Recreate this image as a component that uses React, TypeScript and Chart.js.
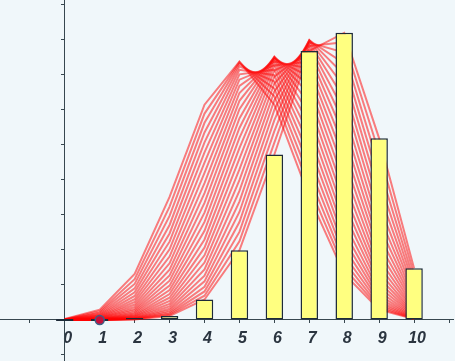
import React, { useEffect, useRef } from "react";
import { Chart, registerables } from "chart.js";

Chart.register(...registerables);

// x positions (number of successes k)
const kValues = [0, 1, 2, 3, 4, 5, 6, 7, 8, 9, 10];
const xTickLabels = ["0", "1", "2", "3", "4", "5", "6", "7", "8", "9", "10"];

// final bars (yellow)
const barValues = [0.0, 0.0, 0.0005, 0.0039, 0.0195, 0.0664, 0.1576, 0.2563, 0.2735, 0.173, 0.0492];

// marker point on the x axis
const markerX = [1];
const markerY = [0];

// red traces (one polyline per step)
const trace050 = [0.001, 0.0098, 0.0439, 0.1172, 0.2051, 0.2461, 0.2051, 0.1172, 0.0439, 0.0098, 0.001];
const trace051 = [0.0008, 0.0083, 0.0389, 0.108, 0.1966, 0.2456, 0.213, 0.1267, 0.0494, 0.0114, 0.0012];
const trace052 = [0.0006, 0.007, 0.0343, 0.0991, 0.1878, 0.2441, 0.2204, 0.1364, 0.0554, 0.0133, 0.0014];
const trace053 = [0.0005, 0.0059, 0.0301, 0.0905, 0.1786, 0.2417, 0.2271, 0.1464, 0.0619, 0.0155, 0.0017];
const trace054 = [0.0004, 0.005, 0.0263, 0.0824, 0.1692, 0.2383, 0.2331, 0.1564, 0.0688, 0.018, 0.0021];
const trace055 = [0.0003, 0.0042, 0.0229, 0.0746, 0.1596, 0.234, 0.2384, 0.1665, 0.0763, 0.0207, 0.0025];
const trace056 = [0.0003, 0.0035, 0.0198, 0.0673, 0.1499, 0.2289, 0.2427, 0.1765, 0.0843, 0.0238, 0.003];
const trace057 = [0.0002, 0.0029, 0.0171, 0.0604, 0.1401, 0.2229, 0.2462, 0.1865, 0.0927, 0.0273, 0.0036];
const trace058 = [0.0002, 0.0024, 0.0147, 0.054, 0.1304, 0.2162, 0.2488, 0.1963, 0.1017, 0.0312, 0.0043];
const trace059 = [0.0001, 0.0019, 0.0125, 0.048, 0.1209, 0.2087, 0.2503, 0.2058, 0.1111, 0.0355, 0.0051];
const trace060 = [0.0001, 0.0016, 0.0106, 0.0425, 0.1115, 0.2007, 0.2508, 0.215, 0.1209, 0.0403, 0.006];
const trace061 = [0.0001, 0.0013, 0.009, 0.0374, 0.1023, 0.192, 0.2503, 0.2237, 0.1312, 0.0456, 0.0071];
const trace062 = [0.0001, 0.001, 0.0075, 0.0327, 0.0934, 0.1829, 0.2487, 0.2319, 0.1419, 0.0514, 0.0084];
const trace063 = [0.0, 0.0008, 0.0063, 0.0285, 0.0849, 0.1734, 0.2461, 0.2394, 0.1529, 0.0578, 0.0098];
const trace064 = [0.0, 0.0006, 0.0052, 0.0247, 0.0767, 0.1636, 0.2424, 0.2462, 0.1642, 0.0649, 0.0115];
const trace065 = [0.0, 0.0005, 0.0043, 0.0212, 0.0689, 0.1536, 0.2377, 0.2522, 0.1757, 0.0725, 0.0135];
const trace066 = [0.0, 0.0004, 0.0035, 0.0181, 0.0616, 0.1434, 0.2319, 0.2573, 0.1873, 0.0808, 0.0157];
const trace067 = [0.0, 0.0003, 0.0028, 0.0154, 0.0547, 0.1332, 0.2253, 0.2614, 0.199, 0.0898, 0.0182];
const trace068 = [0.0, 0.0002, 0.0023, 0.013, 0.0482, 0.1229, 0.2177, 0.2643, 0.2107, 0.0995, 0.0211];
const trace069 = [0.0, 0.0002, 0.0018, 0.0108, 0.0422, 0.1128, 0.2093, 0.2662, 0.2222, 0.1099, 0.0245];
const trace070 = [0.0, 0.0001, 0.0014, 0.009, 0.0368, 0.1029, 0.2001, 0.2668, 0.2335, 0.1211, 0.0282];
const trace071 = [0.0, 0.0001, 0.0011, 0.0074, 0.0317, 0.0933, 0.1903, 0.2662, 0.2444, 0.133, 0.0326];
const trace072 = [0.0, 0.0001, 0.0009, 0.006, 0.0272, 0.0839, 0.1798, 0.2642, 0.2548, 0.1456, 0.0374];
const trace073 = [0.0, 0.0001, 0.0007, 0.0049, 0.0231, 0.075, 0.1689, 0.2609, 0.2646, 0.159, 0.043];
const trace074 = [0.0, 0.0, 0.0005, 0.0039, 0.0195, 0.0664, 0.1576, 0.2563, 0.2735, 0.173, 0.0492];

const traces = [
  trace050, trace051, trace052, trace053, trace054, trace055, trace056, trace057, trace058,
  trace059, trace060, trace061, trace062, trace063, trace064, trace065, trace066, trace067,
  trace068, trace069, trace070, trace071, trace072, trace073, trace074,
];

const AXIS_COLOR = "#37474f";
const LABEL_COLOR = "#2b3540";

export default function App() {
  const ref = useRef<HTMLCanvasElement>(null);

  useEffect(() => {
    const canvas = ref.current;
    if (!canvas) return;
    const toXY = (vals: number[]) => vals.map((v, i) => ({ x: kValues[i], y: v }));

    const traceSets = traces.map((t) => ({
      type: "line" as const,
      data: toXY(t),
      borderColor: "rgba(255,0,0,0.5)",
      borderWidth: 2,
      pointRadius: 0,
      fill: false,
      tension: 0,
      order: 2,
    }));

    const chart = new Chart(canvas, {
      type: "bar",
      data: {
        datasets: [
          {
            type: "scatter",
            data: markerX.map((x, i) => ({ x, y: markerY[i] })),
            pointRadius: 4.5,
            pointBackgroundColor: "#c8103a",
            pointBorderColor: "#3f5f85",
            pointBorderWidth: 1.5,
            order: 0,
          } as any,
          {
            type: "bar",
            data: toXY(barValues),
            backgroundColor: "#ffff80",
            borderColor: "#1e2b38",
            borderWidth: 1.5,
            borderSkipped: false,
            minBarLength: 2,
            barPercentage: 0.5,
            categoryPercentage: 1,
            order: 1,
          } as any,
          ...(traceSets as any[]),
        ],
      },
      options: {
        responsive: false,
        animation: false,
        devicePixelRatio: 1,
        events: [],
        layout: { padding: 0, autoPadding: false },
        plugins: { legend: { display: false }, tooltip: { enabled: false } },
        scales: {
          x: {
            type: "linear",
            min: -1.855,
            max: 11.12,
            offset: false,
            position: { y: 0 } as any,
            grid: {
              display: true,
              drawOnChartArea: false,
              drawTicks: true,
              tickLength: 3,
              color: AXIS_COLOR,
              lineWidth: 1,
              offset: false,
            },
            border: { display: true, color: AXIS_COLOR, width: 1 },
            ticks: {
              stepSize: 1,
              includeBounds: false,
              maxTicksLimit: 100,
              autoSkip: false,
              maxRotation: 0,
              minRotation: 0,
              padding: 6,
              labelOffset: 3,
              color: LABEL_COLOR,
              font: { family: "'Liberation Sans', Arial, sans-serif", size: 16, style: "italic", weight: "bold" },
              callback: (v: any) => {
                const n = Number(v);
                return Number.isInteger(n) && n >= 0 && n <= 10 ? xTickLabels[n] : "";
              },
            },
          },
          y: {
            type: "linear",
            min: -0.03905,
            max: 0.30476,
            position: { x: 0 } as any,
            grid: {
              display: true,
              drawOnChartArea: false,
              drawTicks: true,
              tickLength: 3,
              color: AXIS_COLOR,
              lineWidth: 1,
            },
            border: { display: true, color: AXIS_COLOR, width: 1 },
            ticks: {
              display: false,
              stepSize: 1 / 30,
              includeBounds: false,
              maxTicksLimit: 100,
              autoSkip: false,
            },
          },
        },
      } as any,
    });

    return () => chart.destroy();
  }, []);

  return (
    <div style={{ position: "fixed", left: 0, top: 0, width: 455, height: 361 }}>
      <canvas
        ref={ref}
        width={455}
        height={361}
        style={{ display: "block", width: 455, height: 361, background: "#f0f7fa" }}
      />
    </div>
  );
}
